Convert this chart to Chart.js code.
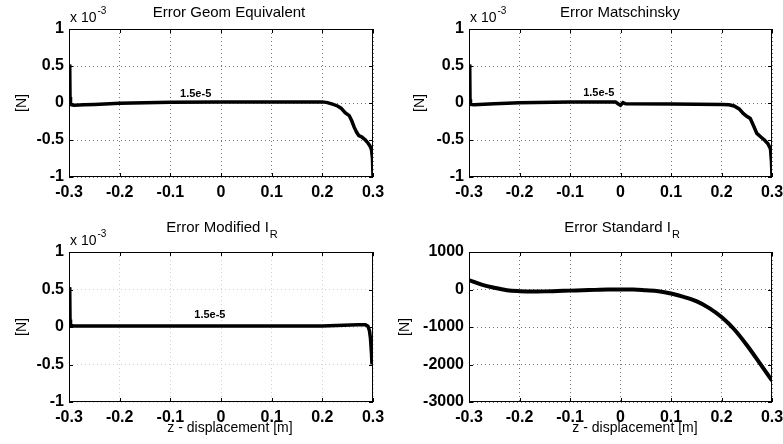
<!DOCTYPE html>
<html>
<head>
<meta charset="utf-8">
<script src="https://cdn.jsdelivr.net/npm/chart.js@4.4.1/dist/chart.umd.min.js"></script>
<style>
  html, body { margin: 0; padding: 0; background: #fff; }
  #wrap { position: relative; width: 783px; height: 444px; }
  #wrap canvas { position: absolute; left: 0; top: 0; }
</style>
</head>
<body>
<div id="wrap">
  <canvas id="geom" width="783" height="444"></canvas>
  <canvas id="mats" width="783" height="444"></canvas>
  <canvas id="modir" width="783" height="444"></canvas>
  <canvas id="stdir" width="783" height="444"></canvas>
</div>
<script>
// shared ticks
var xTicks = [-0.3, -0.2, -0.1, 0, 0.1, 0.2, 0.3];
var yTicksMilli = [-1, -0.5, 0, 0.5, 1];       // x 10^-3
var yTicksStd = [-3000, -2000, -1000, 0, 1000];

// Error Geom Equivalent (x 10^-3)
var geomX = [-0.3, -0.2985, -0.298, -0.297, -0.295, -0.29, -0.27, -0.25, -0.2, -0.15, -0.1, 0, 0.1, 0.2,
             0.21, 0.22, 0.23, 0.237, 0.245, 0.253, 0.258, 0.263, 0.268, 0.272, 0.278, 0.285, 0.29, 0.294, 0.297, 0.299, 0.3];
var geomY = [0.52, 0.45, 0.08, -0.02, -0.025, -0.03, -0.025, -0.02, -0.005, 0.005, 0.01, 0.015, 0.015, 0.015,
             0.005, -0.015, -0.04, -0.07, -0.13, -0.17, -0.24, -0.33, -0.4, -0.44, -0.46, -0.5, -0.54, -0.58, -0.63, -0.75, -1.0];

// Error Matschinsky (x 10^-3)
var matsX = [-0.3, -0.2985, -0.298, -0.297, -0.29, -0.25, -0.2, -0.1, -0.01, -0.005, 0, 0.005, 0.01, 0.1, 0.2,
             0.215, 0.225, 0.235, 0.243, 0.25, 0.257, 0.263, 0.27, 0.278, 0.285, 0.292, 0.297, 0.299, 0.3];
var matsY = [0.52, 0.45, 0.05, -0.02, -0.025, -0.01, 0.005, 0.015, 0.015, -0.01, -0.03, 0.005, -0.01, -0.015, -0.02,
             -0.025, -0.04, -0.08, -0.14, -0.18, -0.21, -0.3, -0.41, -0.46, -0.5, -0.55, -0.62, -0.8, -1.0];

// Error Modified I_R (x 10^-3)
var modX = [-0.3, -0.2985, -0.298, -0.297, -0.29, -0.2, 0, 0.2, 0.27, 0.285, 0.29, 0.293, 0.295, 0.297, 0.298];
var modY = [0.53, 0.45, 0.1, 0.02, 0.015, 0.015, 0.015, 0.015, 0.03, 0.03, 0.01, -0.05, -0.15, -0.35, -0.5];

// Error Standard I_R
var stdX = [-0.3, -0.275, -0.25, -0.225, -0.2, -0.175, -0.15, -0.125, -0.1, -0.075, -0.05, -0.025, 0,
            0.025, 0.05, 0.075, 0.1, 0.125, 0.15, 0.175, 0.2, 0.225, 0.25, 0.275, 0.3];
var stdY = [250, 130, 45, -20, -45, -55, -50, -40, -30, -20, -10, 0, 0,
            0, -20, -45, -105, -195, -310, -490, -735, -1060, -1480, -1950, -2430];

var W = 783, H = 444;
var FONT = '"Liberation Sans", Arial, Helvetica, sans-serif';

function pts(xs, ys) {
    return xs.map(function (x, i) { return { x: x, y: ys[i] }; });
}

// box round the plot plus the small inward tick marks
var frame = {
    id: 'frame',
    afterDatasetsDraw: function (chart) {
        var ctx = chart.ctx, a = chart.chartArea;
        var sx = chart.scales.x, sy = chart.scales.y;
        ctx.save();
        ctx.strokeStyle = '#000';
        ctx.lineWidth = 1;
        ctx.strokeRect(a.left + 0.5, a.top + 0.5, a.right - a.left - 1, a.bottom - a.top - 1);
        ctx.beginPath();
        sx.ticks.forEach(function (t) {
            var px = Math.round(sx.getPixelForValue(t.value)) + 0.5;
            ctx.moveTo(px, a.bottom); ctx.lineTo(px, a.bottom - 4);
            ctx.moveTo(px, a.top); ctx.lineTo(px, a.top + 4);
        });
        sy.ticks.forEach(function (t) {
            var py = Math.round(sy.getPixelForValue(t.value)) + 0.5;
            ctx.moveTo(a.left, py); ctx.lineTo(a.left + 4, py);
            ctx.moveTo(a.right, py); ctx.lineTo(a.right - 4, py);
        });
        ctx.stroke();
        ctx.restore();
    }
};

// titles, axis labels, exponent and the in-plot note
var notes = {
    id: 'notes',
    afterDraw: function (chart, args, o) {
        var ctx = chart.ctx, a = chart.chartArea;
        ctx.save();
        ctx.fillStyle = '#000';
        ctx.textBaseline = 'middle';
        ctx.textAlign = 'left';

        ctx.font = '15px ' + FONT;
        var mainW = ctx.measureText(o.title).width;
        ctx.font = '11px ' + FONT;
        var subW = o.sub ? ctx.measureText(o.sub).width + 1 : 0;
        var tx = o.titleX - (mainW + subW) / 2;
        ctx.font = '15px ' + FONT;
        ctx.fillText(o.title, tx, o.titleY);
        if (o.sub) {
            ctx.font = '11px ' + FONT;
            ctx.fillText(o.sub, tx + mainW + 1, o.titleY + 7);
        }

        if (o.exp) {
            ctx.font = '14px ' + FONT;
            ctx.fillText('x 10', a.left + 1, o.expY);
            var w = ctx.measureText('x 10').width;
            ctx.font = '10px ' + FONT;
            ctx.fillText('-3', a.left + 2 + w, o.expY - 7);
        }

        ctx.save();
        ctx.font = '14px ' + FONT;
        ctx.textAlign = 'center';
        ctx.translate(o.ylabX, (a.top + a.bottom) / 2);
        ctx.rotate(-Math.PI / 2);
        ctx.fillText('[N]', 0, 0);
        ctx.restore();

        if (o.xlab) {
            ctx.font = '14px ' + FONT;
            ctx.textAlign = 'center';
            ctx.fillText(o.xlab, o.xlabX, o.xlabY);
        }

        if (o.tag) {
            ctx.font = 'bold 11px ' + FONT;
            ctx.textAlign = 'center';
            ctx.fillText(o.tag.text, chart.scales.x.getPixelForValue(o.tag.x), chart.scales.y.getPixelForValue(o.tag.y));
        }
        ctx.restore();
    }
};

function panel(id, area, xs, ys, yTicks, info, gridColor, lineW, smooth) {
    var yW = 60, xH = 28;
    var tickFont = { family: FONT, size: 16, weight: 'bold' };
    return new Chart(document.getElementById(id), {
        type: 'line',
        data: {
            datasets: [{
                data: pts(xs, ys),
                borderColor: '#000',
                borderWidth: lineW,
                pointRadius: 0,
                fill: false,
                tension: smooth ? 0.4 : 0,
                cubicInterpolationMode: smooth ? 'monotone' : 'default'
            }]
        },
        options: {
            responsive: false,
            animation: false,
            events: [],
            layout: {
                padding: { left: area.left - yW, top: area.top, right: W - area.right, bottom: H - area.bottom - xH }
            },
            plugins: {
                legend: { display: false },
                tooltip: { enabled: false },
                notes: info
            },
            scales: {
                x: {
                    type: 'linear',
                    min: xTicks[0],
                    max: xTicks[xTicks.length - 1],
                    afterBuildTicks: function (ax) { ax.ticks = xTicks.map(function (v) { return { value: v }; }); },
                    afterFit: function (ax) { ax.height = xH; ax.paddingLeft = 0; ax.paddingRight = 0; },
                    ticks: { font: tickFont, color: '#000', padding: 6, maxRotation: 0, autoSkip: false,
                             callback: function (v) { return String(v); } },
                    grid: { color: gridColor, lineWidth: 1, drawTicks: false },
                    border: { display: false, dash: [1, 3] }
                },
                y: {
                    min: yTicks[0],
                    max: yTicks[yTicks.length - 1],
                    afterBuildTicks: function (ax) { ax.ticks = yTicks.map(function (v) { return { value: v }; }); },
                    afterFit: function (ax) { ax.width = yW; ax.paddingTop = 0; ax.paddingBottom = 0; },
                    ticks: { font: tickFont, color: '#000', padding: 5, autoSkip: false,
                             callback: function (v) { return String(v); } },
                    grid: { color: gridColor, lineWidth: 1, drawTicks: false },
                    border: { display: false, dash: [1, 3] }
                }
            }
        },
        plugins: [frame, notes]
    });
}

panel('geom', { left: 69, right: 373, top: 29, bottom: 177 }, geomX, geomY, yTicksMilli,
    { title: 'Error Geom Equivalent', titleX: 229, titleY: 13, exp: true, expY: 18, ylabX: 22,
      tag: { text: '1.5e-5', x: -0.05, y: 0.12 } }, '#777', 3.5, false);

panel('mats', { left: 469, right: 772, top: 29, bottom: 177 }, matsX, matsY, yTicksMilli,
    { title: 'Error Matschinsky', titleX: 620, titleY: 13, exp: true, expY: 18, ylabX: 420,
      tag: { text: '1.5e-5', x: -0.043, y: 0.13 } }, '#777', 3.5, false);

panel('modir', { left: 69, right: 373, top: 252, bottom: 402 }, modX, modY, yTicksMilli,
    { title: 'Error Modified I', sub: 'R', titleX: 222, titleY: 228, exp: true, expY: 241, ylabX: 22,
      xlab: 'z - displacement [m]', xlabX: 230, xlabY: 428,
      tag: { text: '1.5e-5', x: -0.022, y: 0.16 } }, '#d0d0d0', 3.5, false);

panel('stdir', { left: 469, right: 772, top: 252, bottom: 402 }, stdX, stdY, yTicksStd,
    { title: 'Error Standard I', sub: 'R', titleX: 622, titleY: 228, exp: false, ylabX: 405,
      xlab: 'z - displacement [m]', xlabX: 635, xlabY: 428 }, '#777', 4, true);
</script>
</body>
</html>
